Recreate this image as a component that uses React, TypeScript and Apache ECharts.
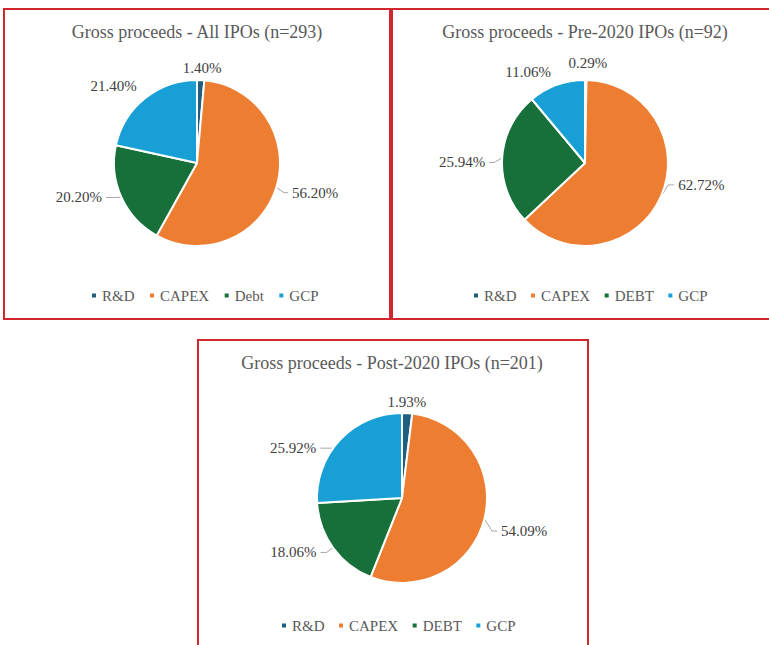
import React, { useEffect, useRef } from 'react';
import * as echarts from 'echarts';

// ---- data ----
const categoriesAll = ['R&D', 'CAPEX', 'Debt', 'GCP'];
const categoriesSplit = ['R&D', 'CAPEX', 'DEBT', 'GCP'];
const valuesAll = [1.4, 56.2, 20.2, 21.4];
const valuesPre2020 = [0.29, 62.72, 25.94, 11.06];
const valuesPost2020 = [1.93, 54.09, 18.06, 25.92];
const chartTitles = [
  'Gross proceeds - All IPOs (n=293)',
  'Gross proceeds - Pre-2020 IPOs (n=92)',
  'Gross proceeds - Post-2020 IPOs (n=201)',
];

// ---- styles ----
const sliceColors = ['#1E5F7F', '#ED7D31', '#17703A', '#18A0D6'];
const FONT = 'Liberation Serif';
const RED = '#D2262E';

type Tweak = { len: number; len2: number; line: boolean; center?: boolean; dx?: number; dy?: number };

const tweaksAll: Tweak[] = [
  { len: 12, len2: 0, line: false, center: true, dx: -3 },
  { len: 8, len2: 4, line: true, dy: 3 },
  { len: 8, len2: 8, line: true, dy: -3 },
  { len: 21, len2: 0, line: false, dx: 9, dy: 4 },
];
const tweaksPre: Tweak[] = [
  { len: 17, len2: 0, line: false, center: true, dx: -2 },
  { len: 8, len2: 6, line: true, dy: -15 },
  { len: 8, len2: 5, line: true, dy: 5 },
  { len: 14, len2: 0, line: false, dx: 3 },
];
const tweaksPost: Tweak[] = [
  { len: 11, len2: 0, line: false, center: true, dx: -5 },
  { len: 8, len2: 5, line: true, dy: 10 },
  { len: 8, len2: 6, line: true },
  { len: 8, len2: 10, line: true, dx: -4, dy: 14 },
];

function makeSeries(
  names: string[],
  values: number[],
  center: [number, number],
  radius: number,
  tweaks: Tweak[]
) {
  return {
    type: 'pie',
    center,
    radius,
    startAngle: 90,
    clockwise: true,
    avoidLabelOverlap: false,
    itemStyle: { borderColor: '#ffffff', borderWidth: 2 },
    label: {
      show: true,
      position: 'outside',
      formatter: (p: any) => `${Number(p.value).toFixed(2)}%`,
      fontFamily: FONT,
      fontSize: 15,
      color: '#404040',
      distanceToLabelLine: 4,
    },
    labelLine: { lineStyle: { color: '#A6A6A6', width: 1 } },
    emphasis: { disabled: true },
    data: names.map((n, i) => ({
      name: n,
      value: values[i],
      itemStyle: { color: sliceColors[i] },
      labelLine: { show: tweaks[i].line, length: tweaks[i].len, length2: tweaks[i].len2, smooth: false },
    })),
    labelLayout: (params: any) => {
      const t = tweaks[params.dataIndex];
      const r = params.labelRect;
      const dx = t.dx || 0;
      const dy = t.dy || 0;
      const out: any = {};
      if (t.center) out.align = 'center';
      if (dx || dy) {
        let ax = r.x;
        if (params.align === 'right') ax = r.x + r.width;
        else if (params.align === 'center') ax = r.x + r.width / 2;
        const ay = r.y + r.height / 2;
        out.x = ax + dx;
        out.y = ay + dy;
        const pts = params.labelLinePoints;
        if (pts && pts.length === 3) {
          out.labelLinePoints = [
            pts[0],
            [pts[1][0], pts[1][1] + dy],
            [pts[2][0] + dx, pts[2][1] + dy],
          ];
        }
      }
      return out;
    },
  };
}

export default function App() {
  const ref = useRef<HTMLDivElement>(null);
  useEffect(() => {
    if (!ref.current) return;
    const chart = echarts.init(ref.current, null, { renderer: 'svg' });
    const titleStyle = { fontFamily: FONT, fontSize: 18, fontWeight: 'normal', color: '#595959' };
    const legendBase = {
      icon: 'rect',
      itemWidth: 6,
      itemHeight: 6,
      padding: 0,
      selectedMode: false,
      textStyle: { fontFamily: FONT, fontSize: 15, color: '#595959' },
    };
    chart.setOption({
      animation: false,
      backgroundColor: '#ffffff',
      title: [
        { text: chartTitles[0], left: 197, top: 23, textAlign: 'center', padding: 0, textStyle: titleStyle },
        { text: chartTitles[1], left: 585, top: 23, textAlign: 'center', padding: 0, textStyle: titleStyle },
        { text: chartTitles[2], left: 392, top: 354, textAlign: 'center', padding: 0, textStyle: titleStyle },
      ],
      legend: [
        { ...legendBase, data: categoriesAll, left: 90, top: 288, itemGap: 13.5 },
        { ...legendBase, data: categoriesSplit, left: 472, top: 288, itemGap: 12.5 },
        { ...legendBase, data: categoriesSplit, left: 280, top: 618, itemGap: 12.5 },
      ],
      graphic: [
        { type: 'rect', shape: { x: 4, y: 9, width: 386, height: 310 }, style: { fill: 'none', stroke: RED, lineWidth: 2 } },
        { type: 'rect', shape: { x: 392, y: 9, width: 400, height: 310 }, style: { fill: 'none', stroke: RED, lineWidth: 2 } },
        { type: 'rect', shape: { x: 198, y: 340, width: 390, height: 330 }, style: { fill: 'none', stroke: RED, lineWidth: 2 } },
      ],
      series: [
        makeSeries(categoriesAll, valuesAll, [197, 163], 83, tweaksAll),
        makeSeries(categoriesSplit, valuesPre2020, [585, 163], 83, tweaksPre),
        makeSeries(categoriesSplit, valuesPost2020, [402, 498], 85, tweaksPost),
      ],
    });
    return () => chart.dispose();
  }, []);
  return (
    <div
      ref={ref}
      style={{ position: 'absolute', left: 0, top: 0, width: 769, height: 645 }}
    />
  );
}
